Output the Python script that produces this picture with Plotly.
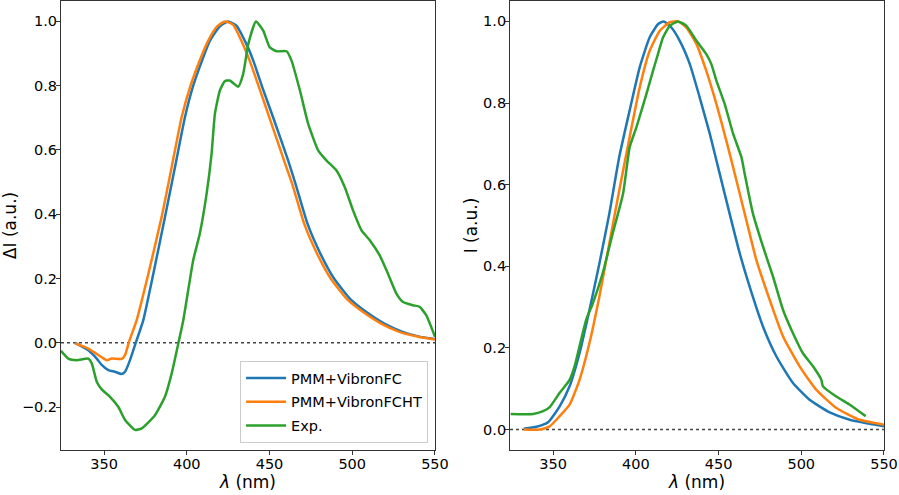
import plotly.graph_objects as go

# painel esquerdo: espectro diferenca (Delta I)
wl_fc_dif = [332.5, 340.5, 345.6, 348.6, 352.6, 356.6, 360.7, 362.7, 365.7, 368.7, 373.7, 379.8,
             386.8, 392.9, 398.9, 403.9, 409.0, 414.0, 420.0, 425.0, 430.0, 436.0, 440.2, 446.0,
             452.5, 461.3, 466.0, 473.0, 481.0, 489.0, 499.0, 509.0, 520.0, 530.0, 540.0, 550.0]
di_fc = [0.0, -0.023, -0.049, -0.069, -0.085, -0.09, -0.097, -0.09, -0.054, -0.007, 0.07, 0.215,
         0.391, 0.547, 0.702, 0.8, 0.875, 0.94, 0.985, 1.0, 0.987, 0.93, 0.878, 0.79,
         0.697, 0.567, 0.49, 0.37, 0.275, 0.2, 0.135, 0.094, 0.058, 0.035, 0.02, 0.012]

wl_fcht_dif = [332.5, 340.5, 348.6, 351.6, 354.6, 360.7, 362.7, 365.1, 369.7, 376.8, 384.8,
               390.9, 396.9, 402.3, 407.6, 413.0, 418.5, 423.2, 428.0, 433.0, 438.0, 444.0,
               450.2, 458.8, 464.0, 471.0, 479.0, 487.0, 497.0, 507.0, 518.0, 528.0, 540.0, 550.0]
di_fcht = [-0.002, -0.018, -0.045, -0.054, -0.049, -0.05, -0.038, 0.003, 0.07, 0.215, 0.391,
           0.547, 0.702, 0.8, 0.875, 0.94, 0.985, 1.0, 0.99, 0.94, 0.878, 0.79,
           0.697, 0.567, 0.49, 0.37, 0.275, 0.2, 0.135, 0.094, 0.058, 0.035, 0.019, 0.01]

wl_exp_dif = [324.0, 328.4, 333.5, 340.5, 342.6, 345.6, 348.6, 353.6, 358.6, 362.7, 368.7, 372.8,
              380.8, 386.8, 390.9, 394.9, 397.9, 403.9, 407.9, 412.0, 415.0, 417.0, 420.0, 423.0,
              426.0, 431.1, 434.1, 437.2, 441.8, 446.2, 450.2, 454.3, 460.3, 463.3, 468.4, 473.4,
              479.5, 484.5, 490.5, 495.5, 500.5, 505.6, 510.6, 516.6, 521.6, 526.7, 530.7, 536.7,
              540.7, 544.7, 550.0]
di_exp = [-0.025, -0.049, -0.054, -0.049, -0.064, -0.121, -0.145, -0.168, -0.199, -0.24, -0.271, -0.266,
          -0.225, -0.168, -0.095, -0.002, 0.07, 0.257, 0.34, 0.464, 0.588, 0.712, 0.785, 0.814,
          0.816, 0.797, 0.837, 0.93, 1.0, 0.971, 0.919, 0.907, 0.907, 0.878, 0.785, 0.681,
          0.598, 0.567, 0.536, 0.484, 0.412, 0.35, 0.319, 0.272, 0.215, 0.153, 0.127, 0.117,
          0.112, 0.086, 0.019]

# painel direito: emissao (I)
wl_fc = [332.3, 340.0, 347.0, 354.0, 360.0, 366.0, 372.0, 378.0, 384.0, 390.0, 396.3, 402.4,
         408.4, 413.4, 416.9, 421.5, 426.5, 432.6, 438.6, 444.7, 450.7, 456.7, 462.8, 468.8,
         476.9, 485.0, 495.0, 505.0, 517.2, 529.3, 550.0]
i_fc = [0.002, 0.007, 0.018, 0.057, 0.106, 0.187, 0.293, 0.407, 0.529, 0.668, 0.782, 0.888,
        0.961, 0.993, 1.0, 0.985, 0.953, 0.896, 0.814, 0.725, 0.627, 0.529, 0.432, 0.35,
        0.252, 0.179, 0.114, 0.073, 0.042, 0.024, 0.008]

wl_fcht = [332.3, 342.0, 348.0, 354.0, 360.0, 366.0, 372.0, 378.0, 384.0, 390.0, 396.3, 402.4,
           408.4, 414.5, 420.5, 425.5, 430.6, 436.6, 442.6, 448.7, 454.7, 460.8, 466.8, 472.9,
           480.9, 489.0, 499.0, 509.0, 521.2, 535.3, 550.0]
i_fcht = [0.0, 0.0, 0.008, 0.033, 0.061, 0.122, 0.212, 0.326, 0.456, 0.586, 0.717, 0.839,
          0.928, 0.977, 0.998, 1.0, 0.985, 0.945, 0.879, 0.798, 0.708, 0.611, 0.513, 0.415,
          0.318, 0.228, 0.155, 0.098, 0.053, 0.024, 0.012]

wl_exp = [324.4, 337.9, 344.0, 348.0, 354.0, 360.0, 363.0, 366.0, 370.0, 374.0, 380.0, 386.0,
          392.3, 396.3, 400.4, 406.4, 410.4, 413.4, 416.5, 420.5, 425.5, 430.6, 436.6, 442.6,
          445.6, 448.7, 453.7, 458.8, 463.8, 465.8, 470.8, 476.9, 482.9, 489.0, 495.0, 501.0,
          507.1, 512.1, 513.1, 521.2, 529.3, 538.9]
i_exp = [0.038, 0.038, 0.045, 0.055, 0.09, 0.122, 0.155, 0.204, 0.269, 0.309, 0.383, 0.48,
         0.578, 0.692, 0.741, 0.822, 0.879, 0.92, 0.961, 0.989, 1.0, 0.989, 0.953, 0.92,
         0.896, 0.855, 0.798, 0.725, 0.668, 0.627, 0.529, 0.448, 0.375, 0.293, 0.236, 0.187,
         0.155, 0.122, 0.106, 0.081, 0.061, 0.033]

nomes = ["PMM+VibronFC", "PMM+VibronFCHT", "Exp."]
cores = ["#1f77b4", "#ff7f0e", "#2ca02c"]

fig = go.Figure()
esq = [(wl_fc_dif, di_fc), (wl_fcht_dif, di_fcht), (wl_exp_dif, di_exp)]
dir_ = [(wl_fc, i_fc), (wl_fcht, i_fcht), (wl_exp, i_exp)]
for k in range(3):
    fig.add_trace(go.Scatter(x=esq[k][0], y=esq[k][1], mode="lines", name=nomes[k], legendgroup=nomes[k],
                             line=dict(color=cores[k], width=2.5, shape="spline", smoothing=0.5),
                             xaxis="x", yaxis="y"))
for k in range(3):
    fig.add_trace(go.Scatter(x=dir_[k][0], y=dir_[k][1], mode="lines", name=nomes[k], showlegend=False,
                             line=dict(color=cores[k], width=2.5, shape="spline", smoothing=0.5),
                             xaxis="x2", yaxis="y2"))

for xr, yr in [("x domain", "y"), ("x2 domain", "y2")]:
    fig.add_shape(type="line", xref=xr, yref=yr, x0=0, x1=1, y0=0, y1=0,
                  line=dict(color="#444", width=1.5, dash="dot"), layer="below")

eixo = dict(showline=True, linecolor="#333", linewidth=1, mirror=True, ticks="outside",
            ticklen=4, tickcolor="#333", showgrid=False, zeroline=False,
            tickfont=dict(size=14.5, color="black"))

fig.update_layout(
    width=899, height=495,
    margin=dict(l=61, r=15, t=1, b=45),
    plot_bgcolor="white", paper_bgcolor="white",
    font=dict(family="DejaVu Sans", size=14.5, color="black"),
    xaxis=dict(eixo, domain=[0, 0.4544], range=[324, 550], tickvals=[350, 400, 450, 500, 550],
               ticklabelstandoff=-3, title=dict(text="<i>λ</i> (nm)", standoff=2), anchor="y"),
    yaxis=dict(eixo, range=[-0.3335, 1.0635], tickvals=[-0.2, 0, 0.2, 0.4, 0.6, 0.8, 1.0],
               ticklabelstandoff=-4, tickformat=".1f",
               title=dict(text="ΔI (a.u.)", standoff=10), anchor="x"),
    xaxis2=dict(eixo, domain=[0.5456, 1], range=[324, 550], tickvals=[350, 400, 450, 500, 550],
                ticklabelstandoff=-3, title=dict(text="<i>λ</i> (nm)", standoff=2), anchor="y2"),
    yaxis2=dict(eixo, range=[-0.05, 1.05], tickvals=[0, 0.2, 0.4, 0.6, 0.8, 1.0],
                ticklabelstandoff=-4, tickformat=".1f",
                title=dict(text="I (a.u.)", standoff=1), anchor="x2"),
    legend=dict(x=0.446, y=0.0156, xanchor="right", yanchor="bottom",
                bgcolor="white", bordercolor="#ccc", borderwidth=1,
                tracegroupgap=2, itemwidth=40, font=dict(size=14.5)),
)

fig.write_html("out.html", config={"displayModeBar": False},
               post_script="document.body.style.margin='0';")
